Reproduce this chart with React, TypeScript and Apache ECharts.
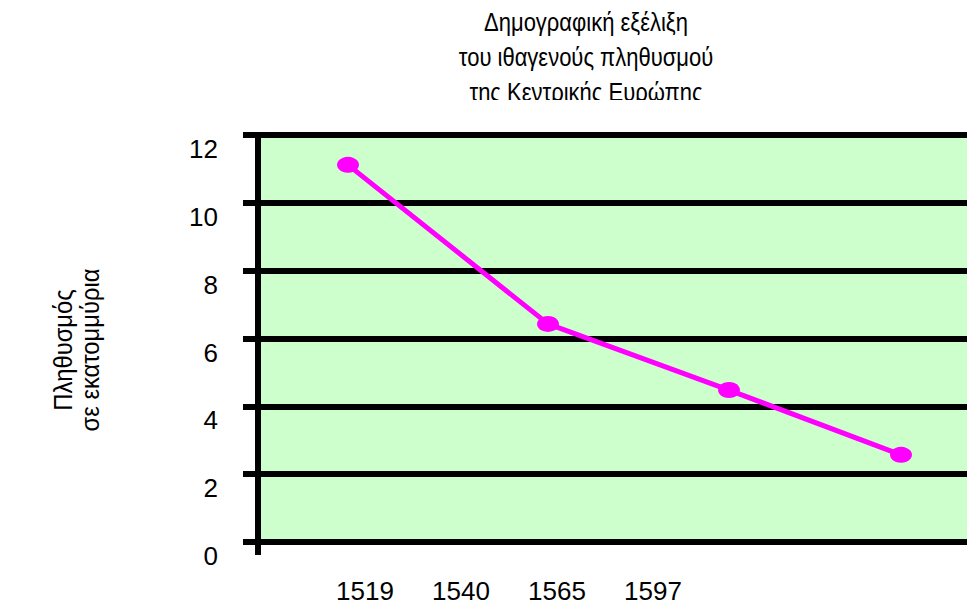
import React, { useEffect, useRef } from "react";
import * as echarts from "echarts";

const yearLabels = ["1519", "1540", "1565", "1597"];
// horizontal position of each point along the (unlabelled) plot axis
const pointPositions = [0.9, 2.9, 4.71, 6.43];
// population in millions
const populationValues = [11.12, 6.43, 4.48, 2.57];
const yTicks = { min: 0, max: 12, interval: 2 };
const titleLines = ["Δημογραφική εξέλιξη", "του ιθαγενούς πληθυσμού", "της Κεντρικής Ευρώπης"];
const yAxisTitle = ["Πληθυσμός", "σε εκατομμύρια"];

const FONT = "'Liberation Sans', Arial, sans-serif";

export default function App() {
  const ref = useRef<HTMLDivElement>(null);
  useEffect(() => {
    if (!ref.current) return;
    const chart = echarts.init(ref.current, null, { renderer: "svg" });
    const seriesData = pointPositions.map((x, i) => [x, populationValues[i]]);
    chart.setOption({
      animation: false,
      backgroundColor: "#ffffff",
      textStyle: { fontFamily: FONT },
      grid: [
        {
          left: 258,
          top: 135,
          right: 0,
          bottom: 62,
          show: true,
          backgroundColor: "#CCFFCC",
          borderWidth: 0,
        },
        { left: 317, top: 135, width: 384, bottom: 62, show: false },
      ],
      xAxis: [
        {
          type: "value",
          gridIndex: 0,
          min: 0,
          max: 7.42,
          interval: 7.42,
          axisLine: { show: true, lineStyle: { color: "#000", width: 6 } },
          axisTick: { show: true, inside: false, length: 13, lineStyle: { color: "#000", width: 6 } },
          axisLabel: { show: false },
          splitLine: { show: false },
        },
        {
          type: "category",
          gridIndex: 1,
          data: yearLabels,
          axisLine: { show: false },
          axisTick: { show: false },
          axisLabel: {
            color: "#000",
            fontSize: 26,
            fontFamily: FONT,
            margin: 36,
            verticalAlign: "top",
            lineHeight: 26,
          },
          splitLine: { show: false },
        },
      ],
      yAxis: [
        {
          type: "value",
          gridIndex: 0,
          min: yTicks.min,
          max: yTicks.max,
          interval: yTicks.interval,
          axisLine: { show: true, lineStyle: { color: "#000", width: 6 } },
          axisTick: { show: true, inside: false, length: 15, lineStyle: { color: "#000", width: 6 } },
          axisLabel: {
            color: "#000",
            fontSize: 26,
            fontFamily: FONT,
            margin: 40,
            verticalAlign: "top",
            lineHeight: 28,
          },
          splitLine: { show: true, lineStyle: { color: "#000", width: 6 } },
        },
        { type: "value", gridIndex: 1, show: false, min: 0, max: 12 },
      ],
      series: [
        {
          type: "line",
          xAxisIndex: 0,
          yAxisIndex: 0,
          data: seriesData,
          symbol: "circle",
          symbolSize: [22, 16],
          lineStyle: { color: "#FF00FF", width: 5 },
          itemStyle: { color: "#FF00FF" },
          clip: false,
        },
      ],
      graphic: [
        {
          type: "text",
          x: 586,
          y: 5,
          z: 10,
          scaleX: 0.88,
          style: {
            text: titleLines.join("\n"),
            fontSize: 25,
            lineHeight: 35,
            fontFamily: FONT,
            fill: "#000",
            align: "center",
            verticalAlign: "top",
          },
        },
        {
          type: "rect",
          shape: { x: 420, y: 100, width: 360, height: 25 },
          style: { fill: "#fff" },
          z: 20,
        },
        {
          type: "text",
          x: 77,
          y: 350,
          rotation: Math.PI / 2,
          scaleX: 0.95,
          z: 10,
          style: {
            text: yAxisTitle.join("\n"),
            fontSize: 25,
            lineHeight: 27,
            fontFamily: FONT,
            fill: "#000",
            align: "center",
            verticalAlign: "middle",
          },
        },
      ],
    });
    return () => chart.dispose();
  }, []);
  return (
    <div style={{ position: "absolute", left: 0, top: 0, width: 967, height: 604, overflow: "hidden" }}>
      <div ref={ref} style={{ width: 1000, height: 604 }} />
    </div>
  );
}
